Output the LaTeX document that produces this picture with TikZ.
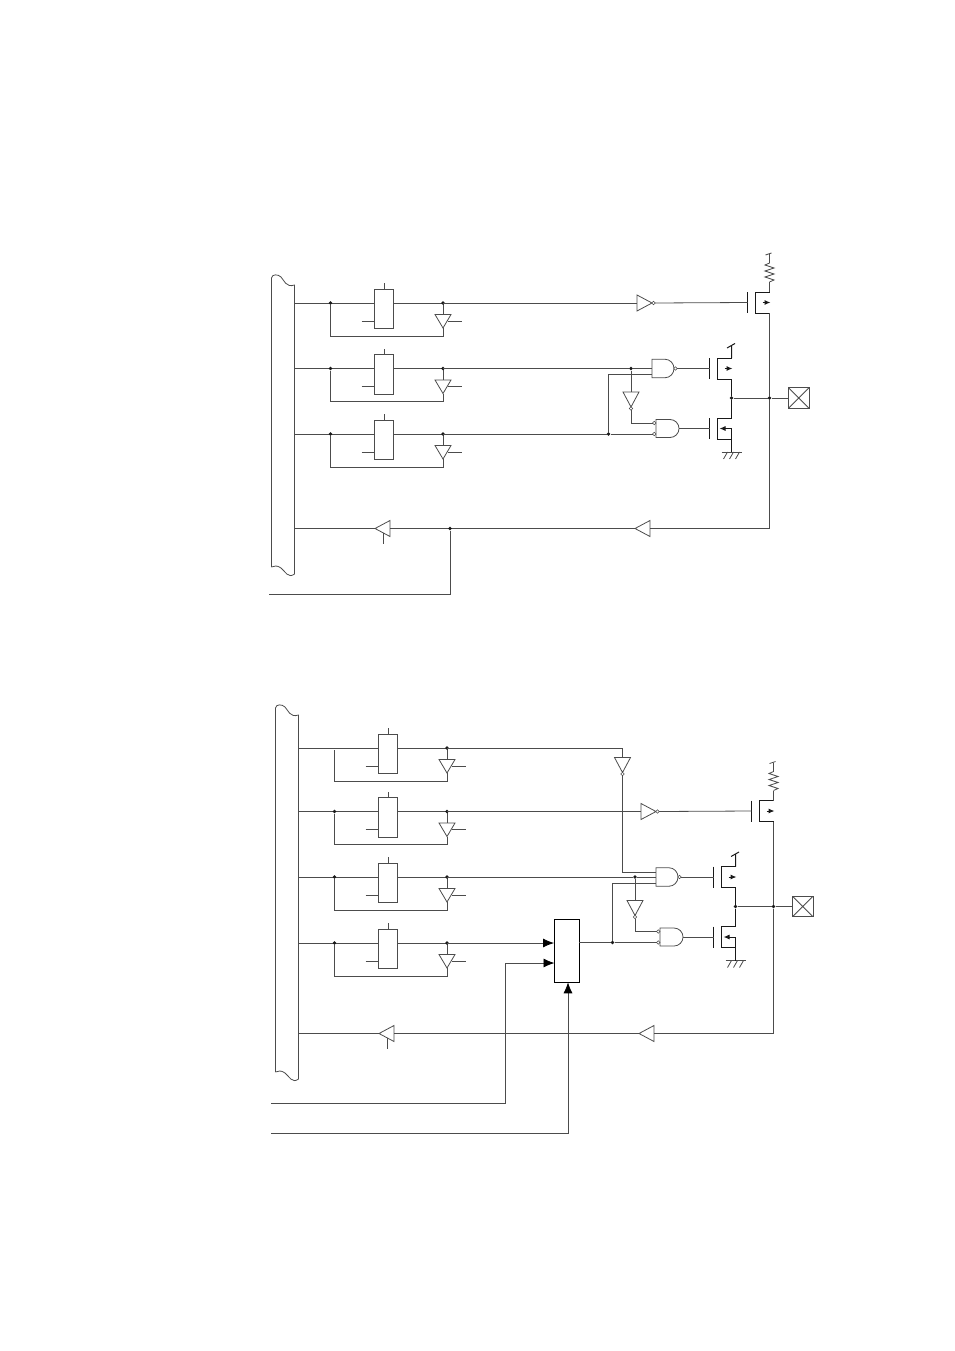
\documentclass[tikz,border=0pt]{standalone}
\usetikzlibrary{arrows.meta}
\tikzset{
  wire/.style={line width=.8pt,color=black!70},
  fetline/.style={line width=1pt,color=black!90},
  dotnode/.style={circle,fill=black!90,inner sep=0pt,minimum size=3.6pt},
  bubble/.style={circle,draw=black!70,fill=white,line width=.6pt,inner sep=0pt,minimum size=3.4pt},
  latchbox/.style={draw=black!70,line width=.8pt,fill=white,inner sep=0pt,minimum width=19pt,minimum height=39.5pt},
  muxbox/.style={draw=black,line width=.9pt,fill=white,inner sep=0pt,minimum width=24.5pt,minimum height=63pt},
  padbox/.style={draw=black!70,line width=.8pt,inner sep=0pt,minimum size=20.5pt,
    path picture={\draw[wire] (path picture bounding box.north west) -- (path picture bounding box.south east)
      (path picture bounding box.north east) -- (path picture bounding box.south west);}},
  bigarrow/.style={wire,-{Latex[length=11pt,width=9pt,color=black]}},
  % one register with its read-back buffer
  latchcell/.pic={
    \coordinate (-l) at (0,0);
    \coordinate (-r) at (112.5,0);
    \node[latchbox] (-box) at (53.5,5.75) {};
    \draw[wire] (-l) -- (-l -| -box.west) (-r -| -box.east) -- (-r);
    \draw[wire] (53.5,-14) -- (53.5,-20);
    \draw[wire] (31,18) -- (44,18);
    \draw[wire] (104.5,11.5) -- (120.5,11.5) -- (112.5,25) -- cycle;
    \draw[wire] (117,18) -- (131,18);
    \draw[wire] (-r) -- (112.5,11.5);
    \draw[wire] (112.5,25) -- (112.5,33) -- (0,33) -- (0,2);
    \node[dotnode] (-rd) at (-r) {};
  },
  bufcell/.pic={
    \draw[wire] (0,-8) -- (15,0) -- (0,8) -- cycle;
    \coordinate (-in) at (0,0);
    \coordinate (-out) at (15,0);
  },
  invcell/.pic={
    \draw[wire] (0,-8) -- (15,0) -- (0,8) -- cycle;
    \node[bubble] (-bub) at (16.5,0) {};
    \coordinate (-in) at (0,0);
    \coordinate (-out) at (18,0);
  },
  nandhi/.pic={
    \draw[wire] (0,-9.25) -- (13,-9.25) .. controls (18,-9.25) and (22,-5) .. (22,0)
      .. controls (22,5) and (18,9.25) .. (13,9.25) -- (0,9.25) -- cycle;
    \node[bubble] (-bub) at (23.5,0) {};
    \coordinate (-a) at (0,-4.5);
    \coordinate (-b) at (0,0);
    \coordinate (-c) at (0,6);
    \coordinate (-out) at (25,0);
  },
  nandlo/.pic={
    \draw[wire] (0,-9) -- (14,-9) .. controls (19,-9) and (23,-5) .. (23,0)
      .. controls (23,5) and (19,9) .. (14,9) -- (0,9) -- cycle;
    \node[bubble] (-ba) at (-1.75,-5.5) {};
    \node[bubble] (-bb) at (-1.75,5.5) {};
    \coordinate (-a) at (-3.25,-5.5);
    \coordinate (-b) at (-3.25,5.5);
    \coordinate (-out) at (23,0);
  },
  pfetcell/.pic={
    \draw[fetline] (0,-10.5) -- (0,10.5);
    \draw[fetline] (22,-10.5) -- (8,-10.5) -- (8,10.5) -- (22,10.5);
    \draw[fetline,-{Latex[length=6pt,width=5pt]}] (15,0) -- (23,0);
    \coordinate (-g) at (0,0);
    \coordinate (-d) at (22,-10.5);
    \coordinate (-s) at (22,10.5);
  },
  nfetcell/.pic={
    \draw[fetline] (0,-10.5) -- (0,10.5);
    \draw[fetline] (22,-10.5) -- (8,-10.5) -- (8,10.5) -- (22,10.5) -- (22,0);
    \draw[fetline,-{Latex[length=6pt,width=5pt]}] (22,0) -- (10,0);
    \coordinate (-g) at (0,0);
    \coordinate (-d) at (22,-10.5);
    \coordinate (-s) at (22,10.5);
  },
  groundcell/.pic={
    \coordinate (-top) at (0,0);
    \draw[wire] (-10,0) -- (10,0);
    \foreach \x in {-6,0,6} % hatch
    \draw[wire] (\x+2,0) -- (\x-2,7);
  },
  pullres/.pic={
    \draw[wire] (0,0) -- (4.5,-2) -- (-4.5,-5) -- (4.5,-8) -- (-4.5,-11) -- (4.5,-14) -- (-4.5,-17) -- (0,-19) -- (0,-28);
    \draw[wire] (-4,-27) -- (2,-29);
  },
}
\begin{document}
\begin{tikzpicture}[x=1pt,y=-1pt]
\useasboundingbox (0,0) rectangle (954,1351);
\foreach \pf/\dx/\dy/\ry/\bt/\bb in {a/0/0/528.5/278/567, b/4/508.5/525/199.5/563.5}{
\begin{scope}[shift={(\dx,\dy)},name prefix=\pf-]
% bus outline
\coordinate (bus) at (294.5,400);
\draw[wire] (271.5,\bb) -- (271.5,\bt) .. controls (272,\bt-4) and (278,\bt-4) .. (281,\bt-1)
  .. controls (284,\bt+2) and (286,\bt+10) .. (294.5,\bt+7) -- (294.5,\bb+7)
  .. controls (288,\bb+12) and (285,\bb+4) .. (281,\bb+1) .. controls (277,\bb-2) and (274,\bb-1) .. (271.5,\bb);
% output stage
\pic (pinv) at (637,303) {invcell};
\pic (fup) at (747.5,302.5) {pfetcell};
\pic (res) at (769.5,282) {pullres};
\pic (hnd) at (652,368.5) {nandhi};
\pic (lnd) at (656,428.5) {nandlo};
\pic (linv) at (631,392) [rotate=-90] {invcell};
\pic (fhi) at (709.5,368.5) {pfetcell};
\pic (flo) at (709.5,428.5) {nfetcell};
\pic (gnd) at (731.5,452) {groundcell};
\node[dotnode] (jt) at (631,368.5) {};
\node[dotnode] (jd) at (608.5,434) {};
\node[dotnode] (mid) at (731.5,398) {};
\node[dotnode] (tap) at (769.5,398) {};
\node[padbox] (pad) at (798.75,398) {};
\coordinate (vd) at (731.5,345);
\coordinate (rowend) at (769.5,\ry);
\draw[wire] (pinv-out) -- (fup-g);
\draw[wire] (fup-d) -- (769.5,282);
\draw[fetline] (fhi-d) -- (vd) (727,348) -- (735,343.5);
\draw[wire] (hnd-out) -- (fhi-g);
\draw[wire] (lnd-out) -- (flo-g);
\draw[wire] (jt) -- (hnd-b) (jt) -- (linv-in);
\draw[wire] (linv-out) |- (lnd-a);
\draw[wire] (jd) |- (hnd-c) (jd) -- (lnd-b);
\draw[fetline] (fhi-s) -- (mid) -- (flo-d);
\draw[fetline] (flo-s) -- (gnd-top);
\draw[wire] (mid) -- (tap) -- (pad);
\draw[wire] (fup-s) -- (tap) -- (rowend);
% read-back path
\pic (rbuf) at (650,\ry) [rotate=180] {bufcell};
\pic (lbuf) at (390,\ry) [rotate=180] {bufcell};
\draw[wire] (rowend) -- (rbuf-in);
\draw[wire] (rbuf-out) -- (lbuf-in);
\draw[wire] (lbuf-out) -- (bus |- rowend);
\draw[wire] (383,\ry+4) -- (383,\ry+15);
\end{scope}
}
% registers
\foreach \cc/\bs/\xx/\yy in {a-u1/a/330.5/303, a-u2/a/330.5/368.5, a-u3/a/330.5/434,
  b-u1/b/334.5/748, b-u2/b/334.5/811.5, b-u3/b/334.5/877, b-u4/b/334.5/943}{
\pic (\cc) at (\xx,\yy) {latchcell};
\draw[wire] (\bs-bus |- \cc-l) -- (\cc-l);
}
\foreach \cc in {a-u1,a-u2,a-u3,b-u2,b-u3,b-u4}
\node[dotnode] (\cc-ld) at (\cc-l) {};
% upper circuit wiring
\draw[wire] (a-u1-r) -- (a-pinv-in);
\draw[wire] (a-u2-r) -- (a-jt);
\draw[wire] (a-u3-r) -- (a-jd);
\node[dotnode] (a-sn) at (450,528.5) {};
\coordinate (a-sout) at (269,594);
\draw[wire] (a-sn) |- (a-sout);
% lower circuit wiring
\draw[wire] (b-u2-r) -- (b-pinv-in);
\draw[wire] (b-u3-r) -- (b-jt);
\pic (b-tinv) at (622.5,757.5) [rotate=-90] {invcell};
\draw[wire] (b-u1-r) -| (b-tinv-in);
\draw[wire] (b-tinv-out) |- (b-hnd-a);
\node[muxbox] (mux) at (566.75,950.75) {};
\coordinate (mux-a) at (mux.west |- b-u4-r);
\coordinate (mux-b) at (554.5,963);
\coordinate (mux-c) at (568,982.25);
\coordinate (sel-b) at (271,1103);
\coordinate (sel-c) at (271,1133);
\draw[bigarrow] (b-u4-r) -- (mux-a);
\draw[bigarrow] (sel-b) -| (505,963) -- (mux-b);
\draw[bigarrow] (sel-c) -| (mux-c);
\draw[wire] (mux.east |- b-jd) -- (b-jd);
\end{tikzpicture}
\end{document}
